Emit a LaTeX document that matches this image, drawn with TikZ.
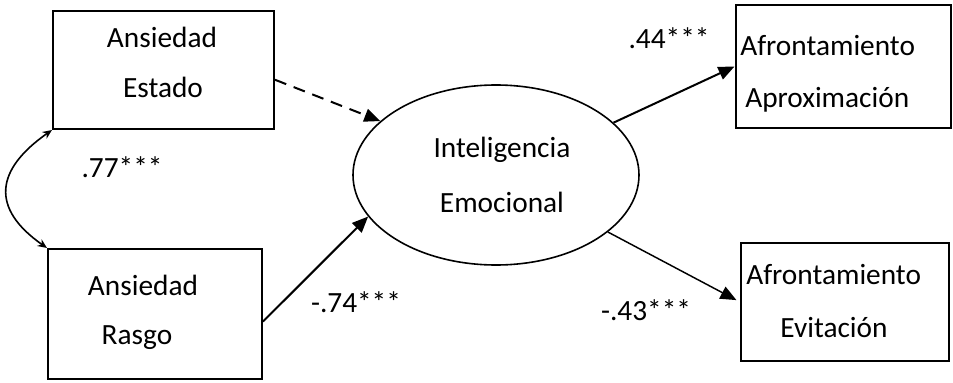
\documentclass[tikz,border=0pt]{standalone}
\usepackage{fontspec}
\setmainfont{Carlito}
\usetikzlibrary{positioning,shapes.geometric,arrows.meta}

\begin{document}
\begin{tikzpicture}[x=0.75pt, y=-0.75pt,
squarednode/.style={rectangle, draw=black, line width=1.5pt, inner sep=0pt},
roundnode/.style={ellipse, draw=black, line width=1.2pt, inner sep=0pt},
wordnode/.style={font=\fontsize{22}{26}\selectfont, inner sep=0pt, anchor=base},
coefnode/.style={font=\fontsize{22}{26}\selectfont, inner sep=0pt, anchor=base},
path/.style={line width=1.5pt, -{Triangle[length=12pt, width=10pt]}},
]
\useasboundingbox (0,0) rectangle (953,382);
%Nodes
\node[squarednode, minimum width=165.75pt, minimum height=88.5pt]  (estado)   at (163.5,70)  {};
\node[squarednode, minimum width=160.5pt, minimum height=97.5pt]   (rasgo)    at (155,314)   {};
\node[roundnode, minimum width=214.5pt, minimum height=135pt]      (ie)       at (496,175)   {};
\node[squarednode, minimum width=161.25pt, minimum height=92.25pt] (aprox)    at (843,66.5)  {};
\node[squarednode, minimum width=156pt, minimum height=88.5pt]     (evit)     at (845,302)   {};

\node[wordnode] (estado1) at (162,47)  {Ansiedad};
\node[wordnode] (estado2) at (163,97)  {Estado};
\node[wordnode] (rasgo1)  at (143,295) {Ansiedad};
\node[wordnode] (rasgo2)  at (137,344) {Rasgo};
\node[wordnode] (ie1)     at (502,157) {Inteligencia};
\node[wordnode] (ie2)     at (502,212) {Emocional};
\node[wordnode, anchor=base west] (aprox1) at (740,55)  {Afrontamiento};
\node[wordnode, anchor=base west] (aprox2) at (745,107) {Aproximación};
\node[wordnode, anchor=base west] (evit1)  at (746,284) {Afrontamiento};
\node[wordnode] (evit2)   at (834,337) {Evitación};

\node[coefnode] (r77) at (122,177) {.77***};
\node[coefnode] (b74) at (356,312) {-.74***};
\node[coefnode] (b44) at (669,48)  {.44***};
\node[coefnode] (b43) at (646,320) {-.43***};

%Lines
\draw[path, dashed, dash pattern=on 9pt off 6pt] (estado.-5) -- (ie.155.5);
\draw[path] (rasgo.-4) -- (ie.198.7);
\draw[path] (ie.24) -- (aprox.west);
\draw[path, line width=1.1pt, shorten >=3pt] (ie.-27.6) -- (evit.west);
\draw[line width=1.2pt, {Stealth[length=7pt, width=6pt]}-{Stealth[length=7pt, width=6pt]}]
  (estado.south west) to[out=215, in=145, looseness=1.5] (rasgo.north west);
\end{tikzpicture}
\end{document}
